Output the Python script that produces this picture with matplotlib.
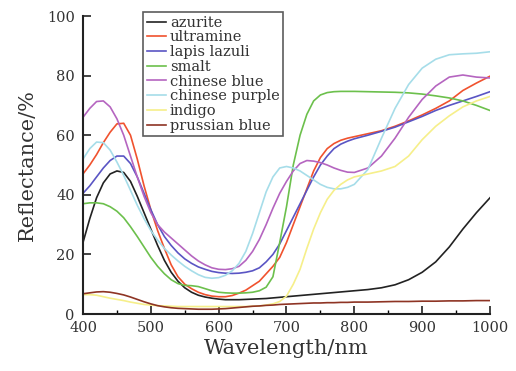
import matplotlib
matplotlib.use("Agg")
import matplotlib.pyplot as plt
from matplotlib.ticker import MultipleLocator

wavelength = list(range(400, 801, 10)) + list(range(820, 1001, 20))

azurite = [24, 32, 39, 44, 47, 48, 47.5, 44.5, 39.5, 34, 28.5, 23, 18, 14, 11, 8.8, 7.3, 6.3,
           5.7, 5.3, 5.0, 4.8, 4.8, 4.8, 4.9, 5.0, 5.1, 5.2, 5.4, 5.6, 5.8, 6.0, 6.2, 6.4, 6.6,
           6.8, 7.0, 7.2, 7.4, 7.6, 7.8,
           8.2, 8.8, 9.8, 11.5, 14, 17.5, 22.5, 28.5, 34, 39]
ultramine = [47, 50, 53.5, 57.5, 61, 63.8, 64, 60, 52, 43, 35, 28, 22, 16.5, 12.5, 10, 8.5, 7.3,
             6.5, 6, 5.8, 5.8, 6.2, 7, 8, 9.5, 11, 13.5, 16, 19, 24, 30, 36, 42, 48,
             52.5, 55.5, 57.2, 58.3, 59, 59.5,
             60.5, 61.5, 63, 64.8, 66.8, 69, 71.5, 75, 77.5, 79.8]
lapis_lazuli = [40.5, 43, 46, 49, 51.5, 53, 53, 50.5, 46, 40.5, 35, 30, 26, 23, 20.5, 18.5, 17,
                15.8, 15, 14.3, 13.9, 13.7, 13.6, 13.7, 14, 14.5, 15.5, 17.5, 20, 23.5, 28,
                32.5, 37, 41.5, 46, 50, 53, 55.5, 57, 58, 58.8,
                60, 61.3, 62.7, 64.5, 66.3, 68.3, 70, 71.5, 73, 74.6]
smalt = [37, 37.3, 37.3, 37, 36, 34.5, 32.3, 29.3, 26, 22.5, 19, 16, 13.5, 11.5, 10.2, 9.6, 9.5,
         9.2, 8.5, 7.8, 7.3, 7.1, 7, 7, 7.1, 7.3, 7.8, 9, 12.5, 24, 36, 50, 60, 67, 71.5,
         73.5, 74.3, 74.6, 74.7, 74.7, 74.7,
         74.6, 74.5, 74.4, 74.2, 73.8, 73.2, 72.5, 71.5, 70, 68.3]
chinese_blue = [66, 69, 71.3, 71.5, 69.5, 65.5, 60, 53, 46, 39.5, 34, 30, 27.5, 25.5, 23.5, 21.5,
                19.5, 17.8, 16.5, 15.5, 15, 14.9, 15.2, 16, 18, 21, 25, 30, 35.5, 40.5, 44.5,
                48, 50.5, 51.5, 51.3, 50.8, 50, 49, 48.2, 47.6, 47.5,
                49, 53, 59, 66, 72, 76.5, 79.5, 80.2, 79.5, 79.2]
chinese_purple = [52, 55.5, 57.7, 57.5, 55, 51, 46.5, 41.5, 36.5, 32, 28, 24.8, 22, 19.8, 17.8,
                  16, 14.5, 13.2, 12.3, 12, 12.2, 13, 14.5, 17, 21, 27, 34, 41, 46, 49, 49.5,
                  49, 48, 46.5, 45, 43.5, 42.5, 42, 42, 42.5, 43.5,
                  48.5, 59, 69, 77, 82.5, 85.5, 87, 87.3, 87.5, 88]
indigo = [6.5, 6.5, 6.3, 5.8, 5.3, 4.9, 4.5, 4.0, 3.6, 3.2, 3.0, 2.8, 2.7, 2.6, 2.5, 2.5, 2.5,
          2.5, 2.5, 2.5, 2.5, 2.5, 2.5, 2.5, 2.5, 2.6, 2.7, 3.0, 3.4, 4.2, 6, 10, 15, 22, 28.5,
          34, 38.5, 41.5, 43.5, 45, 46,
          47, 48, 49.5, 53, 58.5, 63, 66.5, 69.5, 71.5, 73]
prussian_blue = [6.8, 7.1, 7.4, 7.5, 7.3, 6.9, 6.4, 5.7, 4.9, 4.1, 3.4, 2.8, 2.4, 2.1, 1.9, 1.8,
                 1.7, 1.6, 1.6, 1.6, 1.7, 1.8, 2.0, 2.2, 2.4, 2.6, 2.7, 2.9, 3.0, 3.2, 3.3, 3.4,
                 3.5, 3.6, 3.7, 3.7, 3.8, 3.8, 3.9, 3.9, 4.0,
                 4.0, 4.1, 4.2, 4.2, 4.3, 4.3, 4.4, 4.4, 4.5, 4.5]

labels = ["azurite", "ultramine", "lapis lazuli", "smalt", "chinese blue",
          "chinese purple", "indigo", "prussian blue"]
series = [azurite, ultramine, lapis_lazuli, smalt, chinese_blue, chinese_purple,
          indigo, prussian_blue]
colors = ["#222222", "#f0522e", "#5a55c4", "#6cc04c", "#b565c0", "#a6dde9",
          "#f6ef8a", "#8e3424"]

x_ticks = [400, 500, 600, 700, 800, 900, 1000]
y_ticks = [0, 20, 40, 60, 80, 100]

plt.rcParams['font.family'] = ['DejaVu Serif']
fig = plt.figure(figsize=(5.16, 3.71), dpi=100)
ax = fig.add_axes([83/516, 57/371, 407/516, 298/371])

for vals, lab, col in zip(series, labels, colors):
    ax.plot(wavelength, vals, color=col, lw=1.2, label=lab)

ax.set_xlim(400, 1000)
ax.set_ylim(0, 100)
ax.set_xticks(x_ticks)
ax.set_yticks(y_ticks)
ax.xaxis.set_minor_locator(MultipleLocator(50))
ax.tick_params(axis='both', which='major', direction='in', length=6, width=1.2,
               labelsize=10.5, colors='#222222', labelcolor='#333333')
ax.tick_params(axis='x', which='minor', direction='in', length=3, width=1)
ax.tick_params(axis='x', pad=5)
ax.tick_params(axis='y', pad=6)
for s in ['top', 'right']:
    ax.spines[s].set_visible(False)
for s in ['left', 'bottom']:
    ax.spines[s].set_linewidth(1.5)
    ax.spines[s].set_color('#222222')

ax.set_xlabel("Wavelength/nm", fontsize=15, color='#333333', labelpad=3)
ax.set_ylabel("Reflectance/%", fontsize=15, color='#333333', labelpad=7)

leg = fig.legend(loc='upper left', bbox_to_anchor=(143/516, 1 - 12/371), fontsize=10.5,
                 frameon=True, fancybox=False, edgecolor='#333333', handlelength=1.3,
                 handletextpad=0.3, labelspacing=0.05, borderpad=0.25, borderaxespad=0)
leg.get_frame().set_linewidth(1.2)
for t in leg.get_texts():
    t.set_color('#333333')

fig.savefig("out.png", dpi=100)
